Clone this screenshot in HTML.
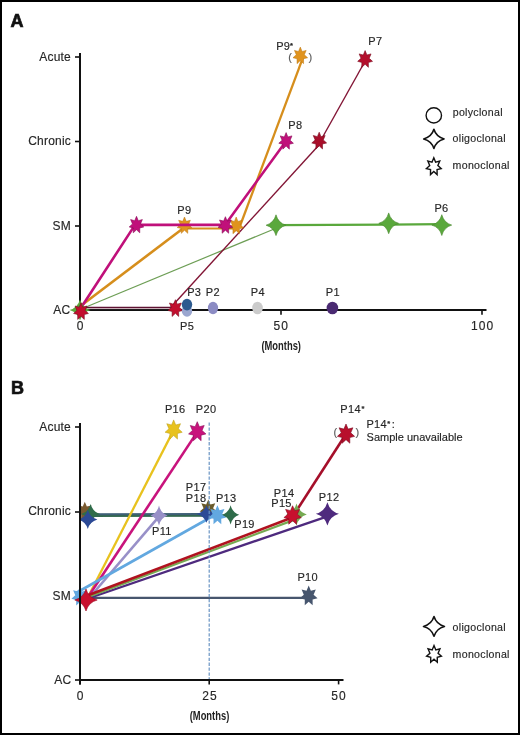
<!DOCTYPE html>
<html><head><meta charset="utf-8"><style>
html,body{margin:0;padding:0;background:#fff;}
.wrap{position:relative;width:520px;height:735px;overflow:hidden;background:#fff;}
svg{position:absolute;left:0;top:0;font-family:"Liberation Sans", sans-serif;will-change:transform;}

.frame{position:absolute;left:0;top:0;width:516px;height:731px;border:2px solid #000;}
</style></head><body><div class="wrap">
<svg width="520" height="735" viewBox="0 0 520 735">
<defs><clipPath id="clipR"><rect x="79" y="490" width="60" height="50"/></clipPath></defs>
<text x="10.6" y="26.5" font-size="18" text-anchor="start" fill="#111" font-weight="bold" stroke="#111" stroke-width="0.7">A</text>
<polyline points="80,53 80,314.5" fill="none" stroke="#111" stroke-width="2" stroke-linejoin="round"/>
<polyline points="79,310 486.5,310" fill="none" stroke="#111" stroke-width="2" stroke-linejoin="round"/>
<polyline points="75,57 80,57" fill="none" stroke="#111" stroke-width="1.6" stroke-linejoin="round"/>
<polyline points="75,141.5 80,141.5" fill="none" stroke="#111" stroke-width="1.6" stroke-linejoin="round"/>
<polyline points="75,226 80,226" fill="none" stroke="#111" stroke-width="1.6" stroke-linejoin="round"/>
<polyline points="75,310 80,310" fill="none" stroke="#111" stroke-width="1.6" stroke-linejoin="round"/>
<polyline points="80,310 80,314.8" fill="none" stroke="#111" stroke-width="1.6" stroke-linejoin="round"/>
<polyline points="281,310 281,314.8" fill="none" stroke="#111" stroke-width="1.6" stroke-linejoin="round"/>
<polyline points="482,310 482,314.8" fill="none" stroke="#111" stroke-width="1.6" stroke-linejoin="round"/>
<text x="71" y="61" font-size="12" text-anchor="end" fill="#262626" font-weight="normal" letter-spacing="0.2" stroke="#262626" stroke-width="0.15">Acute</text>
<text x="71" y="145.3" font-size="12" text-anchor="end" fill="#262626" font-weight="normal" letter-spacing="0.2" stroke="#262626" stroke-width="0.15">Chronic</text>
<text x="71" y="229.8" font-size="12" text-anchor="end" fill="#262626" font-weight="normal" letter-spacing="0.2" stroke="#262626" stroke-width="0.15">SM</text>
<text x="70.3" y="313.9" font-size="12" text-anchor="end" fill="#262626" font-weight="normal" letter-spacing="0.2" stroke="#262626" stroke-width="0.15">AC</text>
<text x="80.55" y="329.7" font-size="12" text-anchor="middle" fill="#262626" font-weight="normal" letter-spacing="1.1" stroke="#262626" stroke-width="0.15">0</text>
<text x="281.3" y="329.7" font-size="12" text-anchor="middle" fill="#262626" font-weight="normal" letter-spacing="1.1" stroke="#262626" stroke-width="0.15">50</text>
<text x="482.7" y="329.7" font-size="12" text-anchor="middle" fill="#262626" font-weight="normal" letter-spacing="1.1" stroke="#262626" stroke-width="0.15">100</text>
<text x="281.2" y="350.3" font-size="13.6" text-anchor="middle" fill="#1e1e1e" font-weight="bold" transform="translate(281.2 0) scale(0.69 1) translate(-281.2 0)">(Months)</text>
<polyline points="80,309.5 276,228.2" fill="none" stroke="#6d9e55" stroke-width="1.2" stroke-linejoin="round"/>
<polyline points="276,225.2 388.7,224.6 442,224.2" fill="none" stroke="#5aa83c" stroke-width="2.3" stroke-linejoin="round"/>
<polyline points="80,307.3 175,307.3" fill="none" stroke="#5e1232" stroke-width="1.2" stroke-linejoin="round"/>
<polyline points="80,308.6 175,308.6" fill="none" stroke="#bc98a6" stroke-width="0.9" stroke-linejoin="round"/>
<polyline points="170,308.2 322.4,141.3" fill="none" stroke="#821535" stroke-width="1.4" stroke-linejoin="round"/>
<polyline points="321,140 366.3,59" fill="none" stroke="#821535" stroke-width="1.4" stroke-linejoin="round"/>
<polyline points="75.3,310 186.2,226" fill="none" stroke="#d68e1c" stroke-width="2.6" stroke-linejoin="round"/>
<polyline points="184.6,228.6 236.3,228.6" fill="none" stroke="#d68e1c" stroke-width="2.0" stroke-linejoin="round"/>
<polyline points="240,226 303.6,55.8" fill="none" stroke="#d68e1c" stroke-width="2.3" stroke-linejoin="round"/>
<polygon points="184.50,217.00 186.29,221.34 190.36,220.24 188.52,224.55 191.81,227.51 187.73,228.55 187.75,233.35 184.50,230.33 181.25,233.35 181.27,228.55 177.19,227.51 180.48,224.55 178.64,220.24 182.71,221.34" fill="#e0931e" stroke="#b87410" stroke-width="0.5" stroke-linejoin="miter" stroke-miterlimit="10"/>
<polygon points="236.20,217.00 237.99,221.44 242.06,220.31 240.22,224.72 243.51,227.76 239.43,228.82 239.45,233.73 236.20,230.64 232.95,233.73 232.97,228.82 228.89,227.76 232.18,224.72 230.34,220.31 234.41,221.44" fill="#e0931e" stroke="#b87410" stroke-width="0.5" stroke-linejoin="miter" stroke-miterlimit="10"/>
<polyline points="79.5,310 135,224.9 225,224.9 286,141.3" fill="none" stroke="#c0107a" stroke-width="2.6" stroke-linejoin="round"/>
<path d="M80.00,299.40 Q82.31,307.67 90.50,310.00 Q82.31,312.33 80.00,320.60 Q77.69,312.33 69.50,310.00 Q77.69,307.67 80.00,299.40 Z" fill="#5aa83c"/>
<polygon points="81.00,302.70 82.81,307.14 86.94,306.01 85.08,310.42 88.41,313.46 84.27,314.52 84.30,319.43 81.00,316.34 77.70,319.43 77.73,314.52 73.59,313.46 76.92,310.42 75.06,306.01 79.19,307.14" fill="#c20f2e" stroke="#7a0a1e" stroke-width="0.6" stroke-linejoin="miter" stroke-miterlimit="10"/>
<path d="M276.00,214.80 Q278.18,222.91 285.90,225.20 Q278.18,227.49 276.00,235.60 Q273.82,227.49 266.10,225.20 Q273.82,222.91 276.00,214.80 Z" fill="#5aa83c" stroke="#46862c" stroke-width="0.6" stroke-miterlimit="10"/>
<path d="M388.70,212.90 Q390.88,221.01 398.60,223.30 Q390.88,225.59 388.70,233.70 Q386.52,225.59 378.80,223.30 Q386.52,221.01 388.70,212.90 Z" fill="#5aa83c" stroke="#46862c" stroke-width="0.6" stroke-miterlimit="10"/>
<path d="M441.80,214.70 Q443.98,222.81 451.70,225.10 Q443.98,227.39 441.80,235.50 Q439.62,227.39 431.90,225.10 Q439.62,222.81 441.80,214.70 Z" fill="#5aa83c" stroke="#46862c" stroke-width="0.6" stroke-miterlimit="10"/>
<polygon points="136.50,216.30 138.29,220.69 142.36,219.58 140.52,223.94 143.81,226.94 139.73,227.98 139.75,232.84 136.50,229.78 133.25,232.84 133.27,227.98 129.19,226.94 132.48,223.94 130.64,219.58 134.71,220.69" fill="#c0107a" stroke="#8a0a58" stroke-width="0.6" stroke-linejoin="miter" stroke-miterlimit="10"/>
<polygon points="225.40,216.70 227.19,221.09 231.26,219.98 229.42,224.34 232.71,227.34 228.63,228.38 228.65,233.24 225.40,230.19 222.15,233.24 222.17,228.38 218.09,227.34 221.38,224.34 219.54,219.98 223.61,221.09" fill="#c0107a" stroke="#8a0a58" stroke-width="0.6" stroke-linejoin="miter" stroke-miterlimit="10"/>
<polygon points="286.10,132.60 287.89,136.99 291.96,135.88 290.12,140.24 293.41,143.24 289.33,144.28 289.35,149.14 286.10,146.09 282.85,149.14 282.87,144.28 278.79,143.24 282.08,140.24 280.24,135.88 284.31,136.99" fill="#c0107a" stroke="#8a0a58" stroke-width="0.6" stroke-linejoin="miter" stroke-miterlimit="10"/>
<polygon points="300.30,47.10 302.09,51.49 306.16,50.38 304.32,54.74 307.61,57.74 303.53,58.78 303.55,63.64 300.30,60.58 297.05,63.64 297.07,58.78 292.99,57.74 296.28,54.74 294.44,50.38 298.51,51.49" fill="#e0931e" stroke="#b87410" stroke-width="0.5" stroke-linejoin="miter" stroke-miterlimit="10"/>
<polygon points="175.40,299.70 177.21,304.14 181.34,303.01 179.48,307.42 182.81,310.46 178.67,311.52 178.70,316.43 175.40,313.34 172.10,316.43 172.13,311.52 167.99,310.46 171.32,307.42 169.46,303.01 173.59,304.14" fill="#c20f2e" stroke="#7a0a1e" stroke-width="0.6" stroke-linejoin="miter" stroke-miterlimit="10"/>
<polygon points="319.20,132.20 321.01,136.64 325.14,135.51 323.28,139.92 326.61,142.96 322.47,144.02 322.50,148.93 319.20,145.84 315.90,148.93 315.93,144.02 311.79,142.96 315.12,139.92 313.26,135.51 317.39,136.64" fill="#a80e2a" stroke="#7a0a1e" stroke-width="0.6" stroke-linejoin="miter" stroke-miterlimit="10"/>
<polygon points="365.10,50.60 366.91,55.04 371.04,53.91 369.18,58.32 372.51,61.36 368.37,62.42 368.40,67.33 365.10,64.24 361.80,67.33 361.83,62.42 357.69,61.36 361.02,58.32 359.16,53.91 363.29,55.04" fill="#b40f2c" stroke="#7a0a1e" stroke-width="0.6" stroke-linejoin="miter" stroke-miterlimit="10"/>
<ellipse cx="187" cy="311" rx="5.2" ry="5.8" fill="#9aa6cf"/>
<ellipse cx="187" cy="304.6" rx="5.2" ry="5.8" fill="#2c5a8f"/>
<ellipse cx="213" cy="308" rx="5.1" ry="6.2" fill="#8c8cc4"/>
<ellipse cx="257.5" cy="308" rx="5.3" ry="6.3" fill="#cbcbcb"/>
<ellipse cx="332.4" cy="308" rx="5.8" ry="6.3" fill="#4a2a72"/>
<text x="187.15" y="295.7" font-size="11" text-anchor="start" fill="#262626" font-weight="normal" letter-spacing="0.3" stroke="#262626" stroke-width="0.15">P3</text>
<text x="205.75" y="295.7" font-size="11" text-anchor="start" fill="#262626" font-weight="normal" letter-spacing="0.3" stroke="#262626" stroke-width="0.15">P2</text>
<text x="180.0" y="329.5" font-size="11" text-anchor="start" fill="#262626" font-weight="normal" letter-spacing="0.3" stroke="#262626" stroke-width="0.15">P5</text>
<text x="250.75" y="295.9" font-size="11" text-anchor="start" fill="#262626" font-weight="normal" letter-spacing="0.3" stroke="#262626" stroke-width="0.15">P4</text>
<text x="325.85" y="295.9" font-size="11" text-anchor="start" fill="#262626" font-weight="normal" letter-spacing="0.3" stroke="#262626" stroke-width="0.15">P1</text>
<text x="177.25" y="214.4" font-size="11" text-anchor="start" fill="#262626" font-weight="normal" letter-spacing="0.3" stroke="#262626" stroke-width="0.15">P9</text>
<text x="288.25" y="129.4" font-size="11" text-anchor="start" fill="#262626" font-weight="normal" letter-spacing="0.3" stroke="#262626" stroke-width="0.15">P8</text>
<text x="368.25" y="45.3" font-size="11" text-anchor="start" fill="#262626" font-weight="normal" letter-spacing="0.3" stroke="#262626" stroke-width="0.15">P7</text>
<text x="434.45" y="211.6" font-size="11" text-anchor="start" fill="#262626" font-weight="normal" letter-spacing="0.3" stroke="#262626" stroke-width="0.15">P6</text>
<text x="276.15" y="50.3" font-size="11" text-anchor="start" fill="#262626" font-weight="normal" letter-spacing="0.3" stroke="#262626" stroke-width="0.15">P9</text>
<text x="290.0" y="48.3" font-size="7.5" text-anchor="start" fill="#262626" font-weight="bold" stroke="#262626" stroke-width="0.15">*</text>
<text x="288.2" y="60.8" font-size="11" text-anchor="start" fill="#5a5a5a" font-weight="normal" stroke="#5a5a5a" stroke-width="0.15">(</text>
<text x="308.6" y="60.8" font-size="11" text-anchor="start" fill="#5a5a5a" font-weight="normal" stroke="#5a5a5a" stroke-width="0.15">)</text>
<ellipse cx="433.8" cy="115.4" rx="7.7" ry="7.6" fill="none" stroke="#111" stroke-width="1.4"/>
<path d="M433.90,129.30 Q436.14,136.79 444.10,138.90 Q436.14,141.01 433.90,148.50 Q431.66,141.01 423.70,138.90 Q431.66,136.79 433.90,129.30 Z" fill="#fff" stroke="#111" stroke-width="1.6" stroke-miterlimit="10" stroke-linejoin="round"/>
<polygon points="433.80,157.80 435.61,162.24 439.74,161.11 437.88,165.52 441.21,168.56 437.07,169.62 437.10,174.53 433.80,171.44 430.50,174.53 430.53,169.62 426.39,168.56 429.72,165.52 427.86,161.11 431.99,162.24" fill="#fff" stroke="#111" stroke-width="1.4" stroke-linejoin="miter" stroke-miterlimit="10"/>
<text x="452.7" y="115.5" font-size="10.6" text-anchor="start" fill="#262626" font-weight="normal" letter-spacing="0.3" stroke="#262626" stroke-width="0.15">polyclonal</text>
<text x="452.6" y="141.6" font-size="10.6" text-anchor="start" fill="#262626" font-weight="normal" letter-spacing="0.3" stroke="#262626" stroke-width="0.15">oligoclonal</text>
<text x="452.6" y="168.8" font-size="10.6" text-anchor="start" fill="#262626" font-weight="normal" letter-spacing="0.3" stroke="#262626" stroke-width="0.15">monoclonal</text>
<text x="11" y="394" font-size="18" text-anchor="start" fill="#111" font-weight="bold" stroke="#111" stroke-width="0.7">B</text>
<polyline points="80,597.8 309.2,597.8" fill="none" stroke="#47566e" stroke-width="2.3" stroke-linejoin="round"/>
<polyline points="85,516.0 230,515.8" fill="none" stroke="#33684f" stroke-width="1.9" stroke-linejoin="round"/>
<polyline points="85,514.3 206,514.1" fill="none" stroke="#3e5f76" stroke-width="2.0" stroke-linejoin="round"/>
<polyline points="88,597 173.9,429.6" fill="none" stroke="#e8c21e" stroke-width="2.3" stroke-linejoin="round"/>
<polyline points="88,597 197,432.4" fill="none" stroke="#c8137c" stroke-width="2.6" stroke-linejoin="round"/>
<polyline points="90,597 160,515.4" fill="none" stroke="#9890c8" stroke-width="2.6" stroke-linejoin="round"/>
<polyline points="76,593 218.4,513" fill="none" stroke="#62a8e0" stroke-width="2.6" stroke-linejoin="round"/>
<polyline points="88,598.5 327.5,516.3" fill="none" stroke="#4e2a7e" stroke-width="2.3" stroke-linejoin="round"/>
<polyline points="88,597 298,518.4" fill="none" stroke="#76aa52" stroke-width="2.3" stroke-linejoin="round"/>
<polyline points="88,595.3 292.9,517.3" fill="none" stroke="#b0121f" stroke-width="2.7" stroke-linejoin="round"/>
<polyline points="292.9,516.3 346,434" fill="none" stroke="#a50f2a" stroke-width="2.6" stroke-linejoin="round"/>
<polygon points="80.00,586.50 82.10,591.54 86.88,590.27 84.72,595.28 88.58,598.73 83.78,599.93 83.82,605.51 80.00,602.00 76.18,605.51 76.22,599.93 71.42,598.73 75.28,595.28 73.12,590.27 77.90,591.54" fill="#62a8e0"/>
<path d="M86.00,589.00 Q88.46,597.58 97.20,600.00 Q88.46,602.42 86.00,611.00 Q83.54,602.42 74.80,600.00 Q83.54,597.58 86.00,589.00 Z" fill="#c8102e" stroke="#9a0a22" stroke-width="0.6" stroke-miterlimit="10"/>
<g clip-path="url(#clipR)">
<polygon points="84.80,501.80 86.83,506.59 91.45,505.38 89.36,510.14 93.09,513.41 88.46,514.56 88.49,519.86 84.80,516.52 81.11,519.86 81.14,514.56 76.51,513.41 80.24,510.14 78.15,505.38 82.77,506.59" fill="#7a5a30"/>
<path d="M90.60,504.00 Q92.69,511.80 100.10,514.00 Q92.69,516.20 90.60,524.00 Q88.51,516.20 81.10,514.00 Q88.51,511.80 90.60,504.00 Z" fill="#2f6c4a"/>
<path d="M87.80,510.00 Q89.91,517.41 97.40,519.50 Q89.91,521.59 87.80,529.00 Q85.69,521.59 78.20,519.50 Q85.69,517.41 87.80,510.00 Z" fill="#2c4a96"/>
</g>
<path d="M159.00,505.50 Q160.89,513.30 167.60,515.50 Q160.89,517.70 159.00,525.50 Q157.11,517.70 150.40,515.50 Q157.11,513.30 159.00,505.50 Z" fill="#9890c8"/>
<polygon points="208.30,499.60 210.42,504.54 215.26,503.29 213.07,508.20 216.98,511.58 212.13,512.76 212.16,518.23 208.30,514.79 204.44,518.23 204.47,512.76 199.62,511.58 203.53,508.20 201.34,503.29 206.18,504.54" fill="#6a5a2a"/>
<path d="M206.40,505.20 Q208.56,512.06 216.20,514.00 Q208.56,515.94 206.40,522.80 Q204.24,515.94 196.60,514.00 Q204.24,512.06 206.40,505.20 Z" fill="#2c4a96"/>
<polygon points="217.40,505.20 219.55,510.24 224.44,508.97 222.23,513.98 226.17,517.43 221.27,518.63 221.30,524.21 217.40,520.70 213.50,524.21 213.53,518.63 208.63,517.43 212.57,513.98 210.36,508.97 215.25,510.24" fill="#62a8e0"/>
<path d="M230.60,505.20 Q232.49,512.69 239.20,514.80 Q232.49,516.91 230.60,524.40 Q228.71,516.91 222.00,514.80 Q228.71,512.69 230.60,505.20 Z" fill="#2f6c4a"/>
<polygon points="173.65,419.90 175.75,425.00 180.53,423.70 178.37,428.76 182.23,432.25 177.43,433.46 177.47,439.10 173.65,435.56 169.83,439.10 169.87,433.46 165.07,432.25 168.93,428.76 166.77,423.70 171.55,425.00" fill="#e8c21e" stroke="#b89a10" stroke-width="0.5" stroke-linejoin="miter" stroke-miterlimit="10"/>
<polygon points="197.25,421.70 199.37,426.74 204.21,425.47 202.02,430.48 205.93,433.93 201.08,435.13 201.11,440.71 197.25,437.20 193.39,440.71 193.42,435.13 188.57,433.93 192.48,430.48 190.29,425.47 195.13,426.74" fill="#c8137c" stroke="#8d0a5a" stroke-width="0.6" stroke-linejoin="miter" stroke-miterlimit="10"/>
<path d="M296.50,503.40 Q298.77,511.98 306.80,514.40 Q298.77,516.82 296.50,525.40 Q294.23,516.82 286.20,514.40 Q294.23,511.98 296.50,503.40 Z" fill="#76aa52"/>
<polygon points="292.60,505.75 294.72,510.64 299.56,509.40 297.37,514.26 301.28,517.61 296.43,518.78 296.46,524.19 292.60,520.79 288.74,524.19 288.77,518.78 283.92,517.61 287.83,514.26 285.64,509.40 290.48,510.64" fill="#c8102e" stroke="#8a0a22" stroke-width="0.6" stroke-linejoin="miter" stroke-miterlimit="10"/>
<path d="M327.40,502.20 Q329.94,511.29 338.95,513.85 Q329.94,516.41 327.40,525.50 Q324.86,516.41 315.85,513.85 Q324.86,511.29 327.40,502.20 Z" fill="#4e2a7e"/>
<polygon points="308.70,585.60 310.87,590.85 315.81,589.52 313.58,594.73 317.57,598.31 312.61,599.57 312.65,605.37 308.70,601.72 304.75,605.37 304.79,599.57 299.83,598.31 303.82,594.73 301.59,589.52 306.53,590.85" fill="#47566e"/>
<polygon points="346.00,424.00 348.10,429.10 352.88,427.80 350.72,432.86 354.58,436.35 349.78,437.56 349.82,443.20 346.00,439.66 342.18,443.20 342.22,437.56 337.42,436.35 341.28,432.86 339.12,427.80 343.90,429.10" fill="#b80f2c" stroke="#7a0a20" stroke-width="0.6" stroke-linejoin="miter" stroke-miterlimit="10"/>
<polyline points="209.2,422.5 209.2,680" fill="none" stroke="#6a94c4" stroke-width="1.2" stroke-linejoin="round" stroke-dasharray="3.3 1.6"/>
<polyline points="80,423 80,684.4" fill="none" stroke="#111" stroke-width="2" stroke-linejoin="round"/>
<polyline points="79,680 343.5,680" fill="none" stroke="#111" stroke-width="2" stroke-linejoin="round"/>
<polyline points="75,427 80,427" fill="none" stroke="#111" stroke-width="1.6" stroke-linejoin="round"/>
<polyline points="75,512 80,512" fill="none" stroke="#111" stroke-width="1.6" stroke-linejoin="round"/>
<polyline points="75,680 80,680" fill="none" stroke="#111" stroke-width="1.6" stroke-linejoin="round"/>
<polyline points="80,680 80,684.4" fill="none" stroke="#111" stroke-width="1.6" stroke-linejoin="round"/>
<polyline points="209.2,680 209.2,684.4" fill="none" stroke="#111" stroke-width="1.6" stroke-linejoin="round"/>
<polyline points="338.6,680 338.6,684.4" fill="none" stroke="#111" stroke-width="1.6" stroke-linejoin="round"/>
<text x="71" y="430.9" font-size="12" text-anchor="end" fill="#262626" font-weight="normal" letter-spacing="0.2" stroke="#262626" stroke-width="0.15">Acute</text>
<text x="71" y="515.0" font-size="12" text-anchor="end" fill="#262626" font-weight="normal" letter-spacing="0.2" stroke="#262626" stroke-width="0.15">Chronic</text>
<text x="71" y="599.5" font-size="12" text-anchor="end" fill="#262626" font-weight="normal" letter-spacing="0.2" stroke="#262626" stroke-width="0.15">SM</text>
<text x="71.3" y="683.8" font-size="12" text-anchor="end" fill="#262626" font-weight="normal" letter-spacing="0.2" stroke="#262626" stroke-width="0.15">AC</text>
<text x="80.55" y="699.7" font-size="12" text-anchor="middle" fill="#262626" font-weight="normal" letter-spacing="1.1" stroke="#262626" stroke-width="0.15">0</text>
<text x="210.05" y="699.7" font-size="12" text-anchor="middle" fill="#262626" font-weight="normal" letter-spacing="1.1" stroke="#262626" stroke-width="0.15">25</text>
<text x="339.0" y="699.7" font-size="12" text-anchor="middle" fill="#262626" font-weight="normal" letter-spacing="1.1" stroke="#262626" stroke-width="0.15">50</text>
<text x="209.5" y="719.8" font-size="13.6" text-anchor="middle" fill="#1e1e1e" font-weight="bold" transform="translate(209.5 0) scale(0.69 1) translate(-209.5 0)">(Months)</text>
<text x="164.95" y="412.9" font-size="11" text-anchor="start" fill="#262626" font-weight="normal" letter-spacing="0.3" stroke="#262626" stroke-width="0.15">P16</text>
<text x="195.85" y="412.9" font-size="11" text-anchor="start" fill="#262626" font-weight="normal" letter-spacing="0.3" stroke="#262626" stroke-width="0.15">P20</text>
<text x="185.85" y="491.2" font-size="11" text-anchor="start" fill="#262626" font-weight="normal" letter-spacing="0.3" stroke="#262626" stroke-width="0.15">P17</text>
<text x="185.85" y="502.4" font-size="11" text-anchor="start" fill="#262626" font-weight="normal" letter-spacing="0.3" stroke="#262626" stroke-width="0.15">P18</text>
<text x="215.95" y="502.4" font-size="11" text-anchor="start" fill="#262626" font-weight="normal" letter-spacing="0.3" stroke="#262626" stroke-width="0.15">P13</text>
<text x="234.25" y="527.5" font-size="11" text-anchor="start" fill="#262626" font-weight="normal" letter-spacing="0.3" stroke="#262626" stroke-width="0.15">P19</text>
<text x="152.05" y="534.6" font-size="11" text-anchor="start" fill="#262626" font-weight="normal" letter-spacing="0.3" stroke="#262626" stroke-width="0.15">P11</text>
<text x="273.85" y="497" font-size="11" text-anchor="start" fill="#262626" font-weight="normal" letter-spacing="0.3" stroke="#262626" stroke-width="0.15">P14</text>
<text x="271.25" y="506.6" font-size="11" text-anchor="start" fill="#262626" font-weight="normal" letter-spacing="0.3" stroke="#262626" stroke-width="0.15">P15</text>
<text x="318.85" y="501.1" font-size="11" text-anchor="start" fill="#262626" font-weight="normal" letter-spacing="0.3" stroke="#262626" stroke-width="0.15">P12</text>
<text x="297.45" y="581.3" font-size="11" text-anchor="start" fill="#262626" font-weight="normal" letter-spacing="0.3" stroke="#262626" stroke-width="0.15">P10</text>
<text x="340.35" y="412.6" font-size="11" text-anchor="start" fill="#262626" font-weight="normal" letter-spacing="0.3" stroke="#262626" stroke-width="0.15">P14</text>
<text x="361.6" y="410.6" font-size="7.5" text-anchor="start" fill="#262626" font-weight="bold" stroke="#262626" stroke-width="0.15">*</text>
<text x="366.45" y="428.2" font-size="11" text-anchor="start" fill="#262626" font-weight="normal" letter-spacing="0.3" stroke="#262626" stroke-width="0.15">P14</text>
<text x="387.2" y="426.0" font-size="7.5" text-anchor="start" fill="#262626" font-weight="bold" stroke="#262626" stroke-width="0.15">*</text>
<text x="391.8" y="428.2" font-size="11" text-anchor="start" fill="#262626" font-weight="normal" stroke="#262626" stroke-width="0.15">:</text>
<text x="366.6" y="441.2" font-size="11" text-anchor="start" fill="#262626" font-weight="normal" stroke="#262626" stroke-width="0.15">Sample unavailable</text>
<text x="333.4" y="436.1" font-size="11" text-anchor="start" fill="#5a5a5a" font-weight="normal" stroke="#5a5a5a" stroke-width="0.15">(</text>
<text x="355.6" y="436.1" font-size="11" text-anchor="start" fill="#5a5a5a" font-weight="normal" stroke="#5a5a5a" stroke-width="0.15">)</text>
<path d="M434.00,616.60 Q436.31,624.24 444.50,626.40 Q436.31,628.56 434.00,636.20 Q431.69,628.56 423.50,626.40 Q431.69,624.24 434.00,616.60 Z" fill="#fff" stroke="#111" stroke-width="1.6" stroke-miterlimit="10" stroke-linejoin="round"/>
<polygon points="434.00,645.50 435.81,649.94 439.94,648.81 438.08,653.22 441.41,656.26 437.27,657.32 437.30,662.23 434.00,659.14 430.70,662.23 430.73,657.32 426.59,656.26 429.92,653.22 428.06,648.81 432.19,649.94" fill="#fff" stroke="#111" stroke-width="1.4" stroke-linejoin="miter" stroke-miterlimit="10"/>
<text x="452.6" y="630.6" font-size="10.6" text-anchor="start" fill="#262626" font-weight="normal" letter-spacing="0.3" stroke="#262626" stroke-width="0.15">oligoclonal</text>
<text x="452.6" y="657.5" font-size="10.6" text-anchor="start" fill="#262626" font-weight="normal" letter-spacing="0.3" stroke="#262626" stroke-width="0.15">monoclonal</text>
</svg>
<div class="frame"></div>
</div></body></html>
